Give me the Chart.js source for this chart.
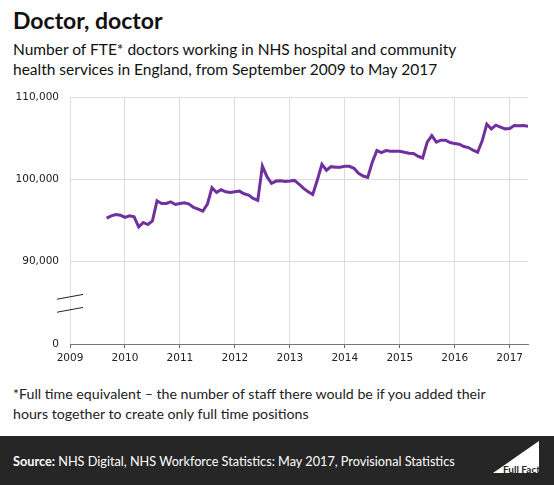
<!DOCTYPE html>
<html>
<head>
<meta charset="utf-8">
<script src="https://cdn.jsdelivr.net/npm/chart.js@4"></script>
<style>
  body { margin: 0; background: #fff; }
  #page { position: relative; width: 554px; height: 485px; overflow: hidden; background: #fff; }
  .txt { position: absolute; left: 13px; color: #111; white-space: nowrap; }
  #title { top: 6px; font: bold 23px Lato, sans-serif; }
  #sub { top: 39px; font: 15.5px/20px Lato, sans-serif; }
  #note { top: 384px; font: 14.2px/20px Lato, sans-serif; color: #222; }
  #footer { position: absolute; left: 0; top: 436px; width: 554px; height: 49px; background: #262626; }
  #source { position: absolute; left: 13px; top: 17px; color: #fff; font: 12.7px Lato, sans-serif; }
  #logo { position: absolute; left: 490px; top: 4px; }
  canvas { position: absolute; left: 0; top: 85px; }
</style>
</head>
<body>
<div id="page">
  <div class="txt" id="title">Doctor, doctor</div>
  <div class="txt" id="sub">Number of FTE* doctors working in NHS hospital and community<br>health services in England, from September 2009 to May 2017</div>
  <canvas id="chart" width="554" height="290"></canvas>
  <div class="txt" id="note">*Full time equivalent – the number of staff there would be if you added their<br>hours together to create only full time positions</div>
  <div id="footer">
    <div id="source"><b>Source:</b> NHS Digital, NHS Workforce Statistics: May 2017, Provisional Statistics</div>
    <svg id="logo" width="56" height="36">
      <polygon points="49,1 49,33 3,33" fill="#fff"/>
      <text x="13" y="32.5" textLength="37" lengthAdjust="spacingAndGlyphs" font-family="Lato, sans-serif" font-weight="bold" font-size="10" fill="#262626">Full Fact</text>
    </svg>
  </div>
</div>
<script>
// monthly FTE doctors, first value = September 2009, last = May 2017
const firstYear = 2009
const firstMonth = 9
const doctors = [
  95300, 95560, 95730, 95650,
  95370, 95560, 95450, 94220, 94760, 94510, 94950, 97390, 97070, 97070, 97270, 96950,
  97070, 97150, 97000, 96590, 96380, 96130, 97000, 98980, 98410, 98730, 98490, 98410,
  98490, 98570, 98250, 98090, 97680, 97440, 101620, 100320, 99510, 99790, 99830, 99750,
  99790, 99870, 99430, 98900, 98490, 98170, 99910, 101830, 101100, 101540, 101460, 101460,
  101580, 101580, 101340, 100730, 100400, 100240, 102070, 103490, 103240, 103490, 103410, 103410,
  103410, 103290, 103170, 103130, 102800, 102600, 104510, 105320, 104510, 104750, 104750, 104470,
  104340, 104260, 103980, 103860, 103540, 103290, 104670, 106710, 106130, 106580, 106340, 106130,
  106180, 106540, 106500, 106540, 106460
]
const yearTicks = [2009, 2010, 2011, 2012, 2013, 2014, 2015, 2016, 2017]
const yTicks = [80000, 90000, 100000, 110000]
const yTickLabels = ['0', '90,000', '100,000', '110,000']

const purple = '#7030A0'

const points = doctors.map((v, i) => ({
  x: firstYear + (firstMonth - 1 + i) / 12,
  y: v
}))

// the two slanted marks showing the broken y axis
const axisBreak = {
  id: 'axisBreak',
  afterDraw(chart) {
    const ctx = chart.ctx
    const left = chart.chartArea.left
    const mid = chart.scales.y.getPixelForValue(85000) + 1
    ctx.save()
    ctx.strokeStyle = '#222'
    ctx.lineWidth = 1
    for (const off of [-7, 6]) {
      ctx.beginPath()
      ctx.moveTo(left - 13, mid + off + 2.4)
      ctx.lineTo(left + 13, mid + off - 2.4)
      ctx.stroke()
    }
    ctx.restore()
  }
}

new Chart(document.querySelector('#chart'), {
  type: 'line',
  data: {
    datasets: [{
      label: 'FTE doctors',
      data: points,
      borderColor: purple,
      backgroundColor: purple,
      borderWidth: 3,
      pointRadius: 0,
      fill: false,
      tension: 0
    }]
  },
  options: {
    responsive: false,
    animation: false,
    devicePixelRatio: 1,
    layout: { padding: { top: 12, right: 26, left: 0, bottom: 0 } },
    plugins: { legend: { display: false }, tooltip: { enabled: false } },
    scales: {
      x: {
        type: 'linear',
        min: 2009,
        max: 2017 + 4 / 12,
        afterFit: s => { s.height = 31 },
        afterBuildTicks: s => { s.ticks = yearTicks.map(v => ({ value: v })) },
        ticks: {
          callback: v => String(v),
          color: '#222',
          font: { family: 'DejaVu Sans', size: 10.5 },
          padding: 4,
          maxRotation: 0
        },
        grid: { color: '#dcdcdc', tickColor: '#666', tickLength: 4 },
        border: { color: '#777', width: 1 }
      },
      y: {
        min: 80000,
        max: 110000,
        afterFit: s => { s.width = 70 },
        afterBuildTicks: s => { s.ticks = yTicks.map(v => ({ value: v })) },
        ticks: {
          callback: v => yTickLabels[yTicks.indexOf(v)],
          color: '#222',
          font: { family: 'DejaVu Sans', size: 10.5 },
          padding: 0
        },
        grid: {
          color: c => c.tick && c.tick.value === 80000 ? 'rgba(0,0,0,0)' : '#dcdcdc',
          tickColor: 'rgba(0,0,0,0)',
          tickLength: 11
        },
        border: { display: false }
      }
    }
  },
  plugins: [axisBreak]
})
</script>
</body>
</html>
